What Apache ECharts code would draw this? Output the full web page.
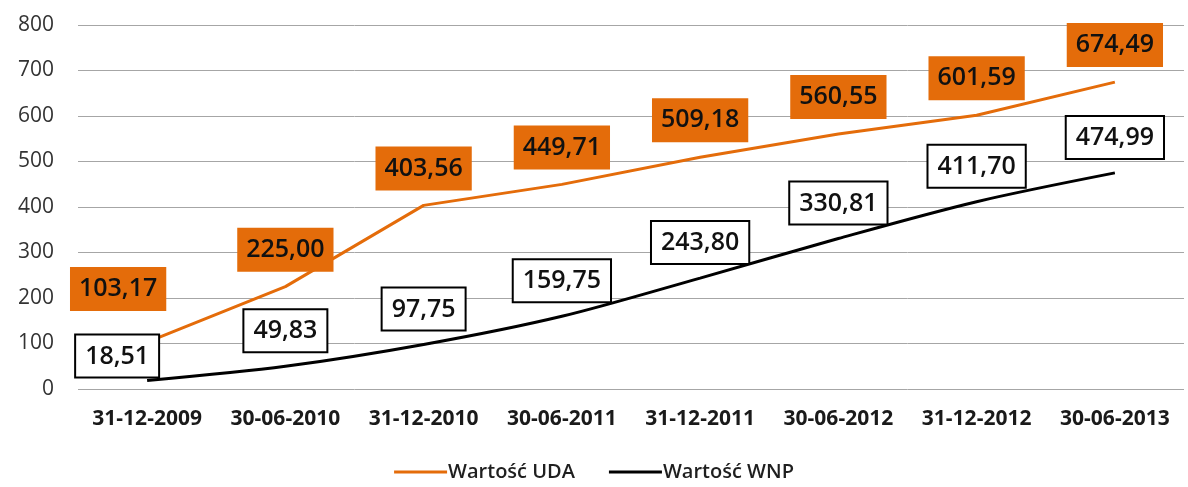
<!DOCTYPE html>
<html>
<head>
<meta charset="utf-8">
<script src="https://cdn.jsdelivr.net/npm/echarts@6/dist/echarts.min.js"></script>
<style>
html,body{margin:0;padding:0;background:#fff;}
#chart{width:1188px;height:487px;}
</style>
</head>
<body>
<div id="chart"></div>
<script>
var categories = ['31-12-2009','30-06-2010','31-12-2010','30-06-2011','31-12-2011','30-06-2012','31-12-2012','30-06-2013'];
var udaValues = [103.17, 225.00, 403.56, 449.71, 509.18, 560.55, 601.59, 674.49];
var wnpValues = [18.51, 49.83, 97.75, 159.75, 243.80, 330.81, 411.70, 474.99];
var seriesNames = ['Wartość UDA', 'Wartość WNP'];

function fmt(v){
	return v.toFixed(2).replace('.', ',');
}

var chart = echarts.init(document.getElementById('chart'));

// only the first labels are shifted, the rest sit right above the point
var udaOffsets = [[-29,-16],[0,0],[0,0],[0,0],[0,0],[0,0],[0,0],[0,0]];
var wnpOffsets = [[-30,11],[0,0],[0,0],[0,0],[0,0],[0,0],[0,0],[0,0]];

var udaData = [];
var wnpData = [];
for(var i = 0; i < categories.length; i++){
	udaData.push({value: udaValues[i], label: {offset: udaOffsets[i]}});
	wnpData.push({value: wnpValues[i], label: {offset: wnpOffsets[i]}});
}

var font = 'Open Sans';

var option = {
	backgroundColor: '#ffffff',
	animation: false,
	grid: {left: 78, right: 4, top: 25, bottom: 98},
	legend: {
		bottom: 0,
		left: 'center',
		itemWidth: 53,
		itemHeight: 3,
		itemGap: 34,
		icon: 'rect',
		textStyle: {fontFamily: font, fontSize: 20, fontWeight: 600, color: '#1f1f1f', padding: [0,0,0,-4]},
		data: seriesNames
	},
	xAxis: {
		type: 'category',
		data: categories,
		boundaryGap: true,
		axisLine: {show: false},
		axisTick: {show: false},
		axisLabel: {interval: 0, fontFamily: font, fontSize: 21, fontWeight: 'bold', color: '#1a1a1a', margin: 20}
	},
	yAxis: {
		type: 'value',
		min: 0,
		max: 800,
		interval: 100,
		axisLine: {show: false},
		axisTick: {show: false},
		splitLine: {lineStyle: {color: '#a6a6a6', width: 1}},
		axisLabel: {fontFamily: font, fontSize: 21, color: '#333333', margin: 24}
	},
	series: [
		{
			name: seriesNames[0],
			type: 'line',
			data: udaData,
			symbol: 'circle',
			symbolSize: 0,
			lineStyle: {color: '#e46c0a', width: 3},
			itemStyle: {color: '#e46c0a'},
			label: {
				show: true,
				position: 'top',
				distance: 15,
				formatter: function(p){ return fmt(p.value); },
				backgroundColor: '#e46c0a',
				color: '#111111',
				fontFamily: font,
				fontSize: 25,
				fontWeight: 600,
				lineHeight: 26,
				padding: [9, 9, 9, 9]
			}
		},
		{
			name: seriesNames[1],
			type: 'line',
			data: wnpData,
			smooth: 0.3,
			symbol: 'circle',
			symbolSize: 0,
			lineStyle: {color: '#000000', width: 3},
			itemStyle: {color: '#000000'},
			label: {
				show: true,
				position: 'top',
				distance: 15,
				formatter: function(p){ return fmt(p.value); },
				backgroundColor: '#ffffff',
				borderColor: '#000000',
				borderWidth: 2,
				color: '#111111',
				fontFamily: font,
				fontSize: 25,
				fontWeight: 600,
				lineHeight: 26,
				padding: [8, 9, 7, 9]
			}
		}
	]
};
chart.setOption(option);
</script>
</body>
</html>
